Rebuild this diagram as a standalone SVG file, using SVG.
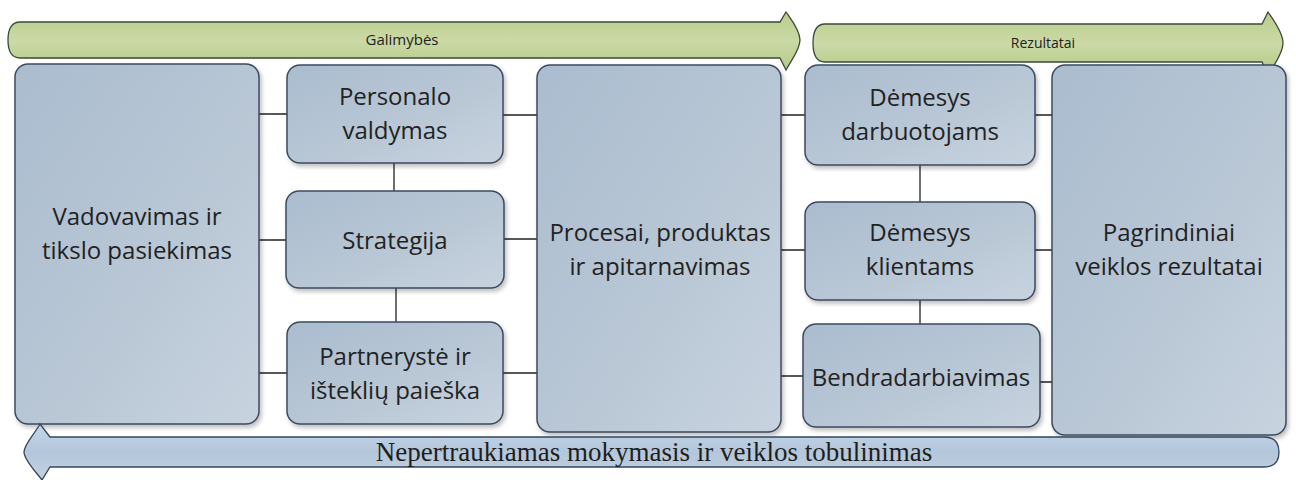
<svg xmlns="http://www.w3.org/2000/svg" width="1296" height="480" viewBox="0 0 1296 480">
<defs>
<linearGradient id="boxg" x1="0" y1="0" x2="1" y2="1">
<stop offset="0" stop-color="#aabccf"/>
<stop offset="0.6" stop-color="#bac8d6"/>
<stop offset="1" stop-color="#c8d3df"/>
</linearGradient>
<linearGradient id="greeng" x1="0" y1="0" x2="0" y2="1">
<stop offset="0" stop-color="#b9cc8a"/>
<stop offset="0.5" stop-color="#cbdaa6"/>
<stop offset="1" stop-color="#b5c886"/>
</linearGradient>
<linearGradient id="blueg" x1="0" y1="0" x2="0" y2="1">
<stop offset="0" stop-color="#c4d6ea"/>
<stop offset="0.5" stop-color="#b4c6da"/>
<stop offset="1" stop-color="#c2d2e2"/>
</linearGradient>
<filter id="sh" x="-5%" y="-5%" width="112%" height="112%">
<feDropShadow dx="2" dy="3" stdDeviation="2" flood-color="#000" flood-opacity="0.25"/>
</filter>
</defs>
<style>
.box{fill:url(#boxg);stroke:#3b4b5f;stroke-width:1.5;filter:url(#sh)}
.lbl{font-family:"Open Sans","Liberation Sans",sans-serif;font-size:24px;fill:#222;text-anchor:middle}
.small{font-family:"Open Sans","Liberation Sans",sans-serif;font-size:15px;fill:#222;text-anchor:middle}
.ser{font-family:"Liberation Serif",serif;font-size:27px;fill:#1e1e1e;text-anchor:middle}
.arr{stroke:#3a4a3a;stroke-width:1.3}
.conn{stroke:#222;stroke-width:1.3;fill:none}
</style>
<rect width="1296" height="480" fill="#ffffff"/>
<g id="arrow-galimybes">
<path class="arr" fill="url(#greeng)" d="M 20,22 H 780 L 786,12 C 790,18 800,30 800,40 C 800,50 790,62 786,70 L 780,58 H 20 Q 8,58 8,40 Q 8,22 20,22 Z"/>
<text class="small" x="402" y="45">Galimybės</text>
</g>
<g id="arrow-rezultatai">
<path class="arr" fill="url(#greeng)" d="M 825,24 H 1262 L 1268,12 C 1272,18 1283,32 1283,43 C 1283,54 1272,68 1268,75 L 1262,62 H 825 Q 813,62 813,43 Q 813,24 825,24 Z"/>
<text class="small" x="1043" y="48" style="font-size:14px">Rezultatai</text>
</g>
<g id="connectors">
<path class="conn" d="M259,114H287 M259,240H287 M259,373H287 M394,163V191 M396,288V322 M503,115H537 M504,239H537 M503,373H537 M781,115H805 M781,250H805 M781,376H803 M920,165V202 M920,300V324 M1035,115H1052 M1035,250H1052 M1040,382H1052"/>
</g>
<g id="node-vadovavimas">
<rect class="box" x="15" y="64" width="244" height="360" rx="13"/>
<text class="lbl" x="137" y="225">Vadovavimas ir</text>
<text class="lbl" x="137" y="259">tikslo pasiekimas</text>
</g>
<g id="node-personalo">
<rect class="box" x="287" y="65" width="216" height="98" rx="13"/>
<text class="lbl" x="395" y="105">Personalo</text>
<text class="lbl" x="395" y="139">valdymas</text>
</g>
<g id="node-strategija">
<rect class="box" x="286" y="191" width="218" height="97" rx="13"/>
<text class="lbl" x="395" y="249">Strategija</text>
</g>
<g id="node-partneryste">
<rect class="box" x="287" y="322" width="216" height="102" rx="13"/>
<text class="lbl" x="395" y="365">Partnerystė ir</text>
<text class="lbl" x="395" y="399">išteklių paieška</text>
</g>
<g id="node-procesai">
<rect class="box" x="537" y="65" width="244" height="367" rx="13"/>
<text class="lbl" x="660" y="241">Procesai, produktas</text>
<text class="lbl" x="660" y="275">ir apitarnavimas</text>
</g>
<g id="node-demesys-darbuotojams">
<rect class="box" x="805" y="65" width="230" height="100" rx="13"/>
<text class="lbl" x="920" y="106">Dėmesys</text>
<text class="lbl" x="920" y="140">darbuotojams</text>
</g>
<g id="node-demesys-klientams">
<rect class="box" x="805" y="202" width="230" height="98" rx="13"/>
<text class="lbl" x="920" y="241">Dėmesys</text>
<text class="lbl" x="920" y="275">klientams</text>
</g>
<g id="node-bendradarbiavimas">
<rect class="box" x="803" y="324" width="237" height="103" rx="13"/>
<text class="lbl" x="921" y="386">Bendradarbiavimas</text>
</g>
<g id="node-pagrindiniai">
<rect class="box" x="1052" y="65" width="234" height="370" rx="13"/>
<text class="lbl" x="1169" y="241">Pagrindiniai</text>
<text class="lbl" x="1169" y="275">veiklos rezultatai</text>
</g>
<g id="arrow-nepertraukiamas">
<path fill="url(#blueg)" stroke="#34465c" stroke-width="1.3" d="M 1264,437 Q 1279,437 1279,452 Q 1279,467 1264,467 H 50 L 42,480 C 36,472 24,460 24,452 C 24,444 36,432 40,424 L 50,437 Z"/>
<text class="ser" x="654" y="461">Nepertraukiamas mokymasis ir veiklos tobulinimas</text>
</g>
</svg>
